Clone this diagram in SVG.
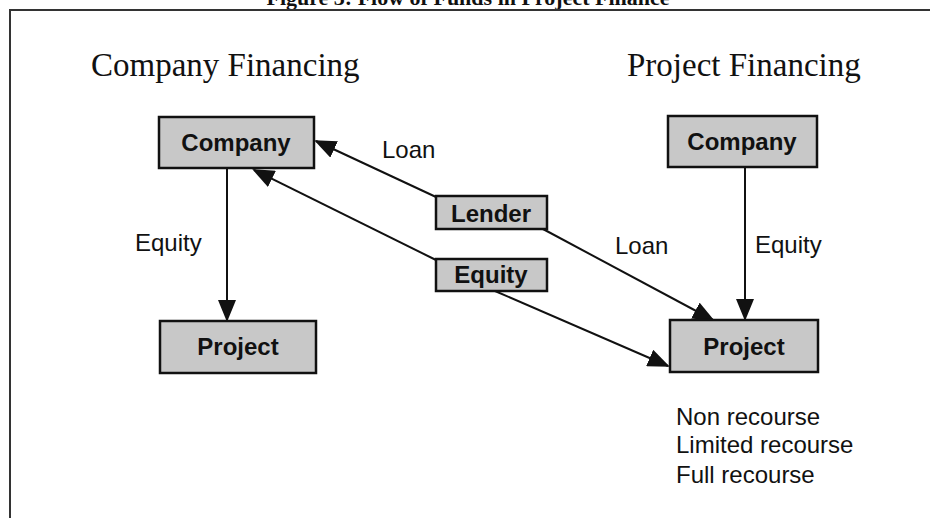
<svg xmlns="http://www.w3.org/2000/svg" width="930" height="518" viewBox="0 0 930 518">
<style>
.box{fill:#c8c8c8;stroke:#111;stroke-width:2.5}
.bl{font-family:"Liberation Sans",Arial,sans-serif;font-weight:bold;font-size:24px;fill:#111;text-anchor:middle}
.lbl{font-family:"Liberation Sans",Arial,sans-serif;font-size:24px;fill:#111}
.hd{font-family:"Liberation Serif","Times New Roman",serif;font-size:33px;fill:#111}
.ttl{font-family:"Liberation Serif","Times New Roman",serif;font-weight:bold;font-size:22px;fill:#111;text-anchor:middle}
.ln{stroke:#111;stroke-width:2;fill:none;marker-end:url(#ah)}
</style>
<defs>
<marker id="ah" markerWidth="11" markerHeight="9" refX="10" refY="4.5" orient="auto" markerUnits="strokeWidth">
<path d="M0,0 L11,4.5 L0,9 Z" fill="#111"/>
</marker>
</defs>
<rect width="930" height="518" fill="#fff"/>
<text class="ttl" x="468" y="5">Figure 3: Flow of Funds in Project Finance</text>
<path d="M10,518 L10,10 L930,10" stroke="#333" stroke-width="2" fill="none"/>
<text class="hd" x="91" y="76">Company Financing</text>
<text class="hd" x="627" y="76">Project Financing</text>
<g id="connectors">
<line class="ln" x1="227" y1="168" x2="227" y2="320"/>
<line class="ln" x1="745" y1="167" x2="745" y2="319"/>
<line class="ln" x1="436" y1="197" x2="316" y2="141"/>
<line class="ln" x1="436" y1="260" x2="254" y2="170"/>
<line class="ln" x1="543" y1="229" x2="713" y2="320"/>
<line class="ln" x1="495" y1="291" x2="668" y2="366"/>
</g>
<g id="company-left"><rect class="box" x="159" y="117" width="155" height="51"/><text class="bl" x="236" y="151">Company</text></g>
<g id="project-left"><rect class="box" x="160" y="321" width="156" height="52"/><text class="bl" x="238" y="355">Project</text></g>
<g id="lender"><rect class="box" x="436" y="196" width="111" height="33"/><text class="bl" x="491" y="222">Lender</text></g>
<g id="equity"><rect class="box" x="436" y="259" width="111" height="32"/><text class="bl" x="491" y="283">Equity</text></g>
<g id="company-right"><rect class="box" x="668" y="116" width="149" height="51"/><text class="bl" x="742" y="150">Company</text></g>
<g id="project-right"><rect class="box" x="670" y="320" width="148" height="52"/><text class="bl" x="744" y="355">Project</text></g>
<text class="lbl" x="382" y="158">Loan</text>
<text class="lbl" x="615" y="254">Loan</text>
<text class="lbl" x="135" y="251">Equity</text>
<text class="lbl" x="755" y="253">Equity</text>
<text class="lbl" x="676" y="425">Non recourse</text>
<text class="lbl" x="676" y="453">Limited recourse</text>
<text class="lbl" x="676" y="483">Full recourse</text>
</svg>
